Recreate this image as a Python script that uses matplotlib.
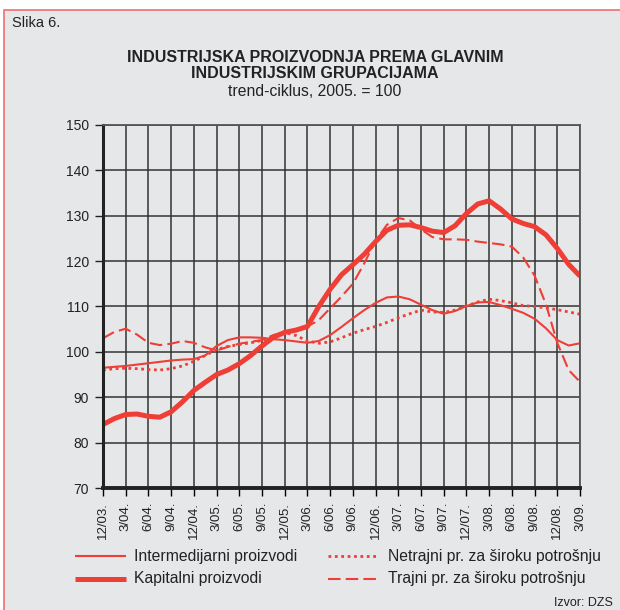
import numpy as np
import matplotlib
matplotlib.use("Agg")
from matplotlib import pyplot as plt
from matplotlib.patches import Rectangle
from matplotlib.lines import Line2D

plt.rcParams['font.family'] = ['Liberation Sans', 'DejaVu Sans']

# months since 12/2003, sampled every 1.5 months
months = np.arange(0, 64.5, 1.5)

tick_labels = ['12/03.', '3/04.', '6/04.', '9/04.', '12/04.', '3/05.', '6/05.', '9/05.',
               '12/05.', '3/06.', '6/06.', '9/06.', '12/06.', '3/07.', '6/07.', '9/07.',
               '12/07.', '3/08.', '6/08.', '9/08.', '12/08.', '3/09.']

intermedijarni = [96.5, 96.7, 96.9, 97.2, 97.5, 97.8, 98.1, 98.3, 98.4, 99.2, 101.3,
                  102.6, 103.2, 103.2, 103.1, 102.8, 102.6, 102.3, 102.0, 102.4, 103.7,
                  105.5, 107.4, 109.2, 110.8, 112.0, 112.2, 111.6, 110.4, 109.2, 108.4,
                  109.0, 110.1, 110.9, 111.0, 110.3, 109.5, 108.6, 107.3, 105.2, 102.6,
                  101.4, 101.9]
kapitalni = [84.0, 85.3, 86.2, 86.3, 85.8, 85.6, 86.8, 89.0, 91.5, 93.3, 95.0, 96.0,
             97.4, 99.2, 101.3, 103.2, 104.3, 104.8, 105.6, 110.0, 113.8, 117.0, 119.2,
             121.5, 124.3, 126.8, 127.9, 128.0, 127.4, 126.6, 126.3, 127.8, 130.5, 132.6,
             133.3, 131.5, 129.3, 128.3, 127.6, 125.8, 122.8, 119.3, 116.7]
netrajni = [96.0, 96.3, 96.4, 96.3, 96.1, 96.0, 96.3, 96.9, 97.9, 99.2, 100.5, 101.2,
            101.6, 102.0, 102.5, 103.5, 104.3, 103.6, 102.4, 101.9, 102.2, 103.1, 104.1,
            104.9, 105.6, 106.5, 107.5, 108.4, 109.2, 108.8, 108.7, 109.2, 110.1, 111.0,
            111.6, 111.3, 110.8, 110.2, 110.0, 109.7, 109.3, 108.8, 108.3]
trajni = [103.0, 104.4, 105.1, 103.8, 102.0, 101.5, 101.8, 102.4, 102.0, 101.0, 100.3,
          101.1, 101.8, 102.2, 102.6, 103.7, 104.4, 105.0, 105.6, 107.0, 109.6, 112.2,
          115.0, 119.5, 124.5, 128.0, 129.5, 129.0, 127.0, 125.3, 124.8, 124.8, 124.7,
          124.3, 124.0, 123.7, 123.2, 120.8, 116.8, 110.5, 102.0, 96.0, 93.4]

red = '#ee3e36'
bg = '#e6e7e9'
txt = '#222222'

W, H = 620, 610


def fx(px):
    return px / W


def fy(py):
    return 1 - py / H


fig = plt.figure(figsize=(6.2, 6.1), dpi=100)
fig.patch.set_facecolor('white')
frame = Rectangle((fx(4), -0.01), 1.0, fy(10) + 0.01, transform=fig.transFigure,
                  facecolor=bg, edgecolor='#f07070', linewidth=1.2)
fig.add_artist(frame)
frame.set_zorder(-5)

ax = fig.add_axes([fx(103), fy(488), 477 / W, 363 / H])
ax.set_zorder(2)
ax.set_facecolor(bg)

styles = [
    (intermedijarni, 'Intermedijarni proizvodi', dict(lw=1.5, linestyle='-')),
    (kapitalni, 'Kapitalni proizvodi', dict(lw=3.6, linestyle='-')),
    (netrajni, 'Netrajni pr. za široku potrošnju', dict(lw=2.0, linestyle=(0, (1, 1.3)))),
    (trajni, 'Trajni pr. za široku potrošnju', dict(lw=1.5, linestyle=(0, (6, 2.5)))),
]
for vals, lab, kw in styles:
    ax.plot(months, vals, color=red, solid_capstyle='butt', label=lab, **kw)

ax.set_xlim(0, 63)
ax.set_ylim(70, 150)
ax.set_xticks(np.arange(0, 64, 3))
ax.set_xticklabels(tick_labels, rotation=90, fontsize=9.5, color=txt)
ax.set_yticks(np.arange(70, 151, 10))
ax.tick_params(axis='y', labelsize=10, colors=txt, length=6, width=1, pad=4)
ax.tick_params(axis='x', length=6, width=1, pad=4)
ax.grid(True, color='#333333', lw=1.1)
ax.set_axisbelow(True)
for s in ['top', 'right']:
    ax.spines[s].set_color('#555555')
    ax.spines[s].set_linewidth(1.3)
ax.spines['left'].set_linewidth(2.2)
ax.spines['left'].set_color(txt)
ax.spines['bottom'].set_linewidth(2.8)
ax.spines['bottom'].set_color(txt)

fig.text(fx(12), fy(23), 'Slika 6.', fontsize=10.5, color=txt, va='center', ha='left')
fig.text(fx(315), fy(58), 'INDUSTRIJSKA PROIZVODNJA PREMA GLAVNIM',
         fontsize=11.5, fontweight='bold', ha='center', va='center', color=txt)
fig.text(fx(315), fy(74), 'INDUSTRIJSKIM GRUPACIJAMA',
         fontsize=11.5, fontweight='bold', ha='center', va='center', color=txt)
fig.text(fx(315), fy(91), 'trend-ciklus, 2005. = 100',
         fontsize=11.3, ha='center', va='center', color=txt)

# legend drawn by hand, two columns
leg_pos = [(75, 126, 134, 556), (75, 126, 134, 579), (328, 377, 388, 556), (328, 377, 388, 579)]
for (vals, lab, kw), (x0, x1, xt, yy) in zip(styles, leg_pos):
    fig.add_artist(Line2D([fx(x0), fx(x1)], [fy(yy), fy(yy)], transform=fig.transFigure,
                          color=red, solid_capstyle='butt', **kw))
    fig.text(fx(xt), fy(yy), lab, fontsize=11.3, ha='left', va='center', color=txt)

fig.text(fx(613), fy(603), 'Izvor: DZS', fontsize=9, ha='right', va='center', color=txt)

fig.savefig('out.png', dpi=100, facecolor=fig.get_facecolor())
